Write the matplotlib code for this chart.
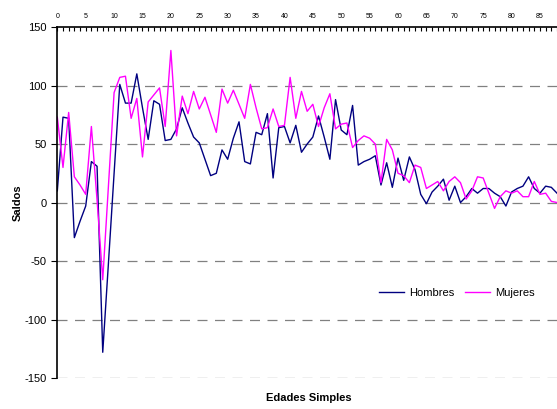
import numpy as np
import matplotlib
matplotlib.use("Agg")
import matplotlib.pyplot as plt
from matplotlib.ticker import MultipleLocator

plt.rcParams['font.family'] = ['Liberation Sans', 'DejaVu Sans']
plt.rcParams['axes.unicode_minus'] = False

# saldos por edad simple (0..88)
edades = list(range(0, 89))
hombres = [10, 73, 72, -30, -16, -3, 35, 31, -128, -52,
           25, 101, 85, 85, 110, 81, 54, 87, 84, 53,
           54, 63, 81, 68, 56, 51, 37, 23, 25, 45,
           37, 55, 69, 35, 33, 60, 58, 76, 21, 64,
           65, 51, 66, 43, 50, 56, 74, 56, 37, 88,
           62, 58, 83, 32, 35, 37, 40, 15, 34, 13,
           38, 19, 39, 28, 7, -1, 9, 14, 20, 2,
           14, 0, 5, 12, 8, 12, 12, 8, 5, -3,
           9, 12, 14, 22, 12, 8, 14, 13, 8]
mujeres = [73, 30, 77, 22, 15, 7, 65, 2, -66, 14,
           94, 107, 108, 72, 89, 39, 86, 92, 98, 65,
           130, 57, 91, 76, 95, 80, 90, 75, 60, 97,
           85, 96, 84, 72, 101, 81, 63, 64, 80, 65,
           66, 107, 72, 95, 78, 84, 65, 81, 93, 63,
           67, 68, 47, 53, 57, 55, 50, 17, 54, 45,
           25, 23, 17, 32, 30, 12, 15, 18, 10, 18,
           22, 17, 3, 10, 22, 21, 8, -5, 5, 10,
           8, 10, 5, 5, 18, 7, 8, 1, 0]

fig = plt.figure(figsize=(5.57, 4.09), dpi=100)
ax = fig.add_axes([0.1029, 0.0758, 0.8971, 0.858])

ax.plot(edades, hombres, color='#000080', lw=1.0, label='Hombres')
ax.plot(edades, mujeres, color='#FF00FF', lw=1.0, label='Mujeres')

ax.set_xlim(0, 88)
ax.set_ylim(-150, 150)

# eje de categorias arriba
ax.xaxis.tick_top()
ax.xaxis.set_major_locator(MultipleLocator(5))
ax.xaxis.set_minor_locator(MultipleLocator(1))
ax.tick_params(axis='x', which='both', direction='in', length=3, width=0.8,
               labelsize=5, pad=5)
ax.yaxis.set_major_locator(MultipleLocator(50))
ax.tick_params(axis='y', direction='out', length=4, width=0.8, labelsize=8)

for y in range(-150, 150, 50):
    ax.axhline(y, color='#808080', lw=0.9, dashes=(8, 6), zorder=0)

ax.spines['right'].set_visible(False)
ax.spines['bottom'].set_visible(False)
ax.spines['left'].set_linewidth(1.2)
ax.spines['top'].set_linewidth(1.2)

ax.set_ylabel('Saldos', fontsize=8, fontweight='bold')
ax.yaxis.set_label_coords(-0.07, 0.5)
fig.text(0.555, 0.027, 'Edades Simples', fontsize=8, fontweight='bold',
         ha='center', va='center')

ax.legend(loc='center', bbox_to_anchor=(0.80, 0.242), ncol=2, frameon=False,
          fontsize=8, handlelength=2.2, columnspacing=1.0, handletextpad=0.5)

fig.savefig('out.png', dpi=100)
